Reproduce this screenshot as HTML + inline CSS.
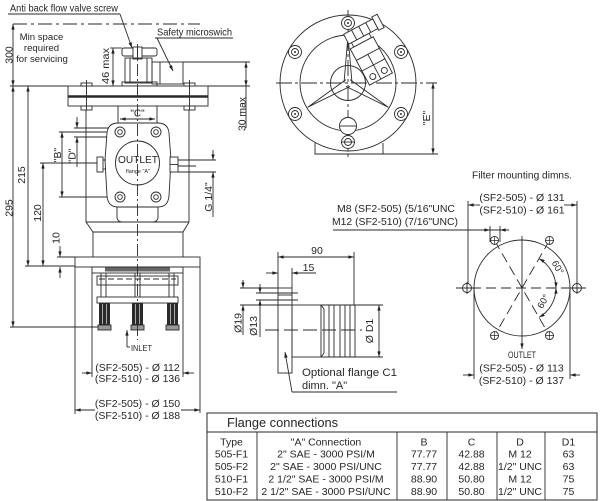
<!DOCTYPE html>
<html><head><meta charset="utf-8">
<style>
html,body{margin:0;padding:0;background:#fff;width:600px;height:501px;overflow:hidden;}
svg{display:block;}
text{font-family:"Liberation Sans",Arial,sans-serif;fill:#262626;stroke:none;}
</style></head><body>
<svg width="600" height="501" viewBox="0 0 600 501" xmlns="http://www.w3.org/2000/svg">
<defs>
<marker id="a" viewBox="0 0 10 6" refX="10" refY="3" markerWidth="6" markerHeight="3.4" markerUnits="userSpaceOnUse" orient="auto-start-reverse"><path d="M0,0 L10,3 L0,6 Z" fill="#222"/></marker>
</defs>

<g stroke="#2a2a2a" stroke-width="0.9" fill="none">

<!-- ============ LEFT VIEW ============ -->
<line x1="8" y1="14" x2="120" y2="14"/>
<line x1="120" y1="14" x2="132" y2="48" marker-end="url(#a)"/>
<line x1="13" y1="24" x2="200" y2="24" stroke-dasharray="14,4,3,4"/>
<line x1="155" y1="38" x2="233" y2="38"/>
<line x1="157" y1="38" x2="173" y2="71" marker-end="url(#a)"/>

<line x1="13" y1="24" x2="13" y2="86" marker-start="url(#a)" marker-end="url(#a)"/>
<line x1="10" y1="86" x2="68" y2="86"/>
<line x1="13" y1="86" x2="13" y2="327" marker-start="url(#a)" marker-end="url(#a)"/>
<line x1="28" y1="86" x2="28" y2="266" marker-start="url(#a)" marker-end="url(#a)"/>
<line x1="43" y1="163" x2="43" y2="266" marker-start="url(#a)" marker-end="url(#a)"/>
<line x1="40" y1="163" x2="97" y2="163"/>
<line x1="25" y1="266" x2="75" y2="266"/>
<line x1="10" y1="327" x2="100" y2="327"/>
<line x1="60" y1="246" x2="60" y2="257" marker-end="url(#a)"/>
<line x1="60" y1="278" x2="60" y2="267" marker-end="url(#a)"/>
<line x1="57" y1="257" x2="75" y2="257"/>
<line x1="62" y1="132" x2="62" y2="197" marker-start="url(#a)" marker-end="url(#a)"/>
<line x1="59" y1="132" x2="115" y2="132"/>
<line x1="59" y1="197" x2="115" y2="197"/>
<line x1="77" y1="117" x2="77" y2="128" marker-end="url(#a)"/>
<line x1="77" y1="167" x2="77" y2="137" marker-end="url(#a)"/>
<line x1="74" y1="128" x2="112" y2="128"/>
<line x1="74" y1="137" x2="112" y2="137"/>
<line x1="113" y1="48" x2="113" y2="86" marker-start="url(#a)" marker-end="url(#a)"/>
<line x1="110" y1="48" x2="122" y2="48"/>
<line x1="183" y1="62" x2="250" y2="62"/>
<line x1="208" y1="86" x2="250" y2="86"/>
<line x1="246" y1="62" x2="246" y2="86" marker-start="url(#a)" marker-end="url(#a)"/>
<line x1="246" y1="86" x2="246" y2="128"/>
<line x1="178" y1="160" x2="216" y2="160"/>
<line x1="178" y1="172" x2="216" y2="172"/>
<line x1="176" y1="166" x2="196" y2="166"/>
<line x1="213" y1="150" x2="213" y2="160" marker-end="url(#a)"/>
<line x1="213" y1="217" x2="213" y2="172" marker-end="url(#a)"/>

<rect x="122" y="48" width="35" height="8" rx="2" fill="#fff"/>
<rect x="133" y="47" width="9" height="12" fill="#fff"/>
<line x1="137.5" y1="47" x2="137.5" y2="59"/>
<rect x="125" y="58" width="27" height="25"/>
<line x1="130" y1="58" x2="130" y2="83"/>
<line x1="147" y1="58" x2="147" y2="83"/>
<rect x="152" y="62" width="31" height="22"/>
<line x1="160" y1="62" x2="160" y2="84"/>
<rect x="122" y="82" width="35" height="4"/>

<rect x="68" y="86" width="140" height="20" fill="#fff"/>
<line x1="68" y1="96.5" x2="208" y2="96.5" stroke-width="2.4"/>
<rect x="81" y="83" width="11" height="3" fill="#fff"/>
<rect x="184" y="83" width="11" height="3" fill="#fff"/>
<rect x="81" y="106" width="11" height="4" fill="#fff"/>
<rect x="184" y="106" width="11" height="4" fill="#fff"/>
<line x1="86.5" y1="80" x2="86.5" y2="110"/>
<line x1="189.5" y1="80" x2="189.5" y2="110"/>

<line x1="86" y1="110" x2="86" y2="222"/>
<line x1="189" y1="110" x2="189" y2="222"/>
<line x1="86" y1="222" x2="189" y2="222"/>
<line x1="86" y1="222" x2="93" y2="232"/>
<line x1="189" y1="222" x2="183" y2="232"/>
<line x1="93" y1="232" x2="183" y2="232"/>
<line x1="93" y1="232" x2="93" y2="257"/>
<line x1="183" y1="232" x2="183" y2="257"/>

<line x1="118" y1="106" x2="118" y2="126"/>
<line x1="157" y1="106" x2="157" y2="126"/>
<line x1="120" y1="119" x2="155" y2="119" marker-start="url(#a)" marker-end="url(#a)"/>

<path d="M118,123 L158,123 Q168,123 169,133 L171,160 L169,196 Q168,207 158,207 L118,207 Q108,207 107,196 L105,160 L107,133 Q108,123 118,123 Z" fill="#fff"/>
<path d="M117,207 L117,218 Q118,222 122,222 M158,207 L158,218 Q157,222 153,222"/>
<circle cx="120" cy="132" r="5"/><circle cx="120" cy="132" r="2.3"/>
<circle cx="156" cy="132" r="5"/><circle cx="156" cy="132" r="2.3"/>
<circle cx="120" cy="197" r="5"/><circle cx="120" cy="197" r="2.3"/>
<circle cx="156" cy="197" r="5"/><circle cx="156" cy="197" r="2.3"/>
<circle cx="137.5" cy="163" r="22"/>
<rect x="97" y="157" width="6" height="15" fill="#fff"/>
<line x1="103" y1="160" x2="106" y2="160"/><line x1="103" y1="169" x2="106" y2="169"/>
<rect x="170" y="157" width="8" height="15" fill="#fff"/>
<line x1="170" y1="164.5" x2="178" y2="164.5"/>

<rect x="75" y="257" width="125" height="10" fill="#fff"/>
<rect x="92" y="267" width="91" height="6"/>
<rect x="105" y="267.5" width="65" height="4" fill="#666" stroke="none"/>
<rect x="97" y="276" width="81" height="9"/>
<line x1="99" y1="279" x2="176" y2="279" stroke-dasharray="6,3"/>
<line x1="101" y1="273" x2="101" y2="297"/><line x1="106" y1="273" x2="106" y2="297"/>
<line x1="135" y1="273" x2="135" y2="297"/><line x1="140" y1="273" x2="140" y2="297"/>
<line x1="169" y1="273" x2="169" y2="297"/><line x1="174" y1="273" x2="174" y2="297"/>
<rect x="97" y="297" width="81" height="6" fill="#fff"/>
<g fill="#2a2a2a" stroke="none">
<rect x="99" y="303" width="11" height="22"/>
<rect x="132" y="303" width="11" height="22"/>
<rect x="167" y="303" width="11" height="22"/>
</g>
<g stroke="#ccc" stroke-width="0.8">
<line x1="102.5" y1="304" x2="102.5" y2="324"/><line x1="106.5" y1="304" x2="106.5" y2="324"/>
<line x1="135.5" y1="304" x2="135.5" y2="324"/><line x1="139.5" y1="304" x2="139.5" y2="324"/>
<line x1="170.5" y1="304" x2="170.5" y2="324"/><line x1="174.5" y1="304" x2="174.5" y2="324"/>
</g>
<rect x="98" y="325" width="13" height="5" fill="#999"/>
<rect x="131" y="325" width="13" height="5" fill="#999"/>
<rect x="166" y="325" width="13" height="5" fill="#999"/>

<line x1="137.5" y1="44" x2="137.5" y2="340" stroke-dasharray="12,3,2,3"/>

<line x1="127" y1="347" x2="127" y2="330" marker-end="url(#a)"/>
<line x1="127" y1="347" x2="130" y2="347"/>

<line x1="92" y1="273" x2="92" y2="377"/>
<line x1="183" y1="273" x2="183" y2="377"/>
<line x1="82" y1="373" x2="92" y2="373" marker-end="url(#a)"/>
<line x1="194" y1="373" x2="183" y2="373" marker-end="url(#a)"/>
<line x1="75" y1="267" x2="75" y2="414"/>
<line x1="200" y1="267" x2="200" y2="413"/>
<line x1="95" y1="410" x2="75" y2="410" marker-end="url(#a)"/>
<line x1="181" y1="410" x2="200" y2="410" marker-end="url(#a)"/>

<!-- ============ TOP VIEW ============ -->
<circle cx="348" cy="83" r="68"/>
<circle cx="348" cy="83" r="48"/>
<circle cx="348" cy="83" r="17.5"/>
<path d="M350.1,86.4 L307.7,107.2 L345.9,79.6"/>
<path d="M345.9,86.4 L388.3,107.2 L350.1,79.6"/>
<path d="M352,83 L348,36 L344,83"/>
<line x1="276" y1="83" x2="437" y2="83" stroke-dasharray="16,3,3,3"/>
<line x1="348" y1="10" x2="348" y2="160" stroke-dasharray="16,3,3,3"/>
<g fill="#fff">
<circle cx="348" cy="23" r="6.5"/><circle cx="348" cy="23" r="3.5"/>
<circle cx="295" cy="52" r="6.5"/><circle cx="295" cy="52" r="3.5"/>
<circle cx="401" cy="52" r="6.5"/><circle cx="401" cy="52" r="3.5"/>
<circle cx="295" cy="114" r="6.5"/><circle cx="295" cy="114" r="3.5"/>
<circle cx="401" cy="114" r="6.5"/><circle cx="401" cy="114" r="3.5"/>
<circle cx="348" cy="126" r="8.5"/>
<circle cx="348" cy="142" r="6.5"/><circle cx="348" cy="142" r="3.5"/>
</g>
<line x1="340" y1="126" x2="356" y2="126"/>
<line x1="342" y1="142" x2="354" y2="142"/>
<g fill="#333" stroke="none">
<circle cx="348" cy="23" r="1"/><circle cx="295" cy="52" r="1"/><circle cx="401" cy="52" r="1"/>
<circle cx="295" cy="114" r="1"/><circle cx="401" cy="114" r="1"/>
</g>
<path d="M315,143 L315,154 L383,154 L383,143"/>
<line x1="383" y1="154" x2="438" y2="154"/>
<line x1="433" y1="83" x2="433" y2="154" marker-start="url(#a)" marker-end="url(#a)"/>
<g transform="translate(352,48) rotate(-28)" fill="#fff">
<rect x="2" y="-5" width="20" height="5"/>
<rect x="-1" y="-16" width="33" height="11"/>
<rect x="32" y="-18" width="6" height="15"/>
<line x1="8" y1="-16" x2="8" y2="-5"/><line x1="16" y1="-16" x2="16" y2="-5"/><line x1="24" y1="-16" x2="24" y2="-5"/>
<rect x="-2" y="0" width="26" height="41"/>
<line x1="-2" y1="13" x2="24" y2="13"/><line x1="-2" y1="25" x2="24" y2="25"/>
<line x1="11" y1="13" x2="11" y2="41"/>
<circle cx="5" cy="35" r="3"/><circle cx="18" cy="35" r="3"/>
</g>

<!-- ============ FLANGE SIDE VIEW ============ -->
<line x1="278" y1="252" x2="278" y2="288"/>
<line x1="354" y1="252" x2="354" y2="305"/>
<line x1="278" y1="257" x2="354" y2="257" marker-start="url(#a)" marker-end="url(#a)"/>
<line x1="292" y1="268" x2="292" y2="288"/>
<line x1="266" y1="273" x2="278" y2="273" marker-end="url(#a)"/>
<line x1="316" y1="273" x2="292" y2="273" marker-end="url(#a)"/>
<rect x="278" y="288" width="14" height="85" fill="#fff"/>
<line x1="278" y1="295" x2="292" y2="295"/>
<line x1="240" y1="288" x2="278" y2="288"/>
<line x1="240" y1="305" x2="292" y2="305"/>
<line x1="256" y1="293" x2="298" y2="293"/>
<line x1="256" y1="300" x2="298" y2="300"/>
<line x1="243" y1="280" x2="243" y2="288" marker-end="url(#a)"/>
<line x1="243" y1="335" x2="243" y2="305" marker-end="url(#a)"/>
<line x1="260" y1="284" x2="260" y2="293" marker-end="url(#a)"/>
<line x1="260" y1="337" x2="260" y2="300" marker-end="url(#a)"/>
<rect x="292" y="305" width="29" height="52"/>
<path d="M321,305 L327,305 L355,305 L355,357 L327,357 L321,357"/>
<line x1="321" y1="305" x2="324" y2="309"/>
<line x1="321" y1="357" x2="324" y2="353"/>
<line x1="324" y1="309" x2="324" y2="353"/>
<line x1="329" y1="305" x2="329" y2="357"/>
<line x1="334" y1="305" x2="334" y2="357"/>
<line x1="340" y1="305" x2="340" y2="357"/>
<line x1="345" y1="305" x2="345" y2="357"/>
<line x1="350" y1="305" x2="350" y2="357"/>
<line x1="265" y1="330" x2="362" y2="330" stroke-dasharray="14,5"/>
<line x1="355" y1="305" x2="383" y2="305"/>
<line x1="355" y1="357" x2="383" y2="357"/>
<line x1="379" y1="305" x2="379" y2="357" marker-start="url(#a)" marker-end="url(#a)"/>
<line x1="292" y1="392" x2="285" y2="352" marker-end="url(#a)"/>
<line x1="292" y1="392" x2="397" y2="392"/>

<!-- ============ RIGHT VIEW ============ -->
<line x1="480" y1="205" x2="468" y2="205" marker-end="url(#a)"/>
<line x1="564" y1="205" x2="577" y2="205" marker-end="url(#a)"/>
<line x1="468" y1="201" x2="468" y2="293"/>
<line x1="577" y1="201" x2="577" y2="293"/>
<circle cx="522" cy="288" r="48"/>
<line x1="456" y1="288" x2="588" y2="288" stroke-dasharray="10,5"/>
<line x1="494.5" y1="240.4" x2="549.5" y2="335.6" stroke-dasharray="10,5"/>
<line x1="549.5" y1="240.4" x2="494.5" y2="335.6" stroke-dasharray="10,5"/>
<line x1="522" y1="236" x2="522" y2="349" marker-end="url(#a)"/>
<g fill="#fff">
<circle cx="467" cy="288" r="4.5"/><circle cx="577" cy="288" r="4.5"/>
<circle cx="494.5" cy="240.4" r="4"/><circle cx="549.5" cy="240.4" r="4"/>
<circle cx="494.5" cy="335.6" r="4"/><circle cx="549.5" cy="335.6" r="4"/>
</g>
<path d="M461,288 h12 M467,282 v12 M571,288 h12 M577,282 v12"/>
<path d="M490,240.4 h9 M494.5,236 v9 M545,240.4 h9 M549.5,236 v9 M490,335.6 h9 M494.5,331 v9 M545,335.6 h9 M549.5,331 v9" stroke-width="0.7"/>
<path d="M539,258.6 A34,34 0 0 1 556,288" marker-start="url(#a)" marker-end="url(#a)"/>
<path d="M556,288 A34,34 0 0 1 539,317.4" marker-start="url(#a)" marker-end="url(#a)"/>
<line x1="474" y1="288" x2="474" y2="379"/>
<line x1="570" y1="288" x2="570" y2="379"/>
<line x1="463" y1="375" x2="474" y2="375" marker-end="url(#a)"/>
<line x1="580" y1="375" x2="570" y2="375" marker-end="url(#a)"/>
<line x1="333" y1="230" x2="509" y2="230"/>
<line x1="480" y1="230" x2="490" y2="230" marker-end="url(#a)"/>
<line x1="509" y1="230" x2="500" y2="230" marker-end="url(#a)"/>
<line x1="490" y1="226" x2="490" y2="242"/>
<line x1="500" y1="226" x2="500" y2="242"/>

<!-- ============ TABLE ============ -->
<rect x="207" y="413" width="390" height="87" stroke-width="1"/>
<line x1="207" y1="432" x2="597" y2="432"/>
<line x1="257" y1="432" x2="257" y2="500"/>
<line x1="397" y1="432" x2="397" y2="500"/>
<line x1="447" y1="432" x2="447" y2="500"/>
<line x1="497" y1="432" x2="497" y2="500"/>
<line x1="545" y1="432" x2="545" y2="500"/>
</g>

<!-- ============ TEXT ============ -->
<g font-size="10.5">
<text x="10" y="11.5" font-size="10" textLength="108" lengthAdjust="spacingAndGlyphs">Anti back flow valve screw</text>
<text x="157" y="35.5" font-size="10" textLength="75" lengthAdjust="spacingAndGlyphs">Safety microswich</text>
<g text-anchor="middle" font-size="9.6">
<text x="41.5" y="40">Min space</text>
<text x="41.5" y="51">required</text>
<text x="42" y="62">for servicing</text>
</g>
<g text-anchor="middle">
<text transform="translate(12.5,55) rotate(-90)">300</text>
<text transform="translate(25,175) rotate(-90)">215</text>
<text transform="translate(12.5,208) rotate(-90)">295</text>
<text transform="translate(41,213) rotate(-90)">120</text>
<text transform="translate(59.5,238) rotate(-90)">10</text>
<text transform="translate(61,155) rotate(-90)">"B"</text>
<text transform="translate(75.5,156) rotate(-90)">"D"</text>
<text transform="translate(109,66) rotate(-90)" textLength="36" lengthAdjust="spacingAndGlyphs">46 max</text>
<text transform="translate(245.5,114) rotate(-90)" textLength="34" lengthAdjust="spacingAndGlyphs">30 max</text>
<text transform="translate(212,197) rotate(-90)">G 1/4"</text>
<text x="137.5" y="116.5" font-size="10">"C"</text>
<text x="138" y="163" textLength="40" lengthAdjust="spacingAndGlyphs">OUTLET</text>
<text x="138" y="173" font-size="5.5">flange "A"</text>
<text x="137.5" y="371">(SF2-505) - Ø 112</text>
<text x="137.5" y="382">(SF2-510) - Ø 136</text>
<text x="137.5" y="407">(SF2-505) - Ø 150</text>
<text x="137.5" y="419">(SF2-510) - Ø 188</text>
<text transform="translate(430,118) rotate(-90)">"E"</text>
<text x="317" y="254">90</text>
<text x="308.5" y="271">15</text>
<text transform="translate(241.5,323) rotate(-90)">Ø19</text>
<text transform="translate(257,326) rotate(-90)">Ø13</text>
<text transform="translate(373,331) rotate(-90)">Ø D1</text>
<text x="522" y="201">(SF2-505) - Ø 131</text>
<text x="522" y="213.5">(SF2-510) - Ø 161</text>
<text x="522" y="358" font-size="9" textLength="28" lengthAdjust="spacingAndGlyphs">OUTLET</text>
<text x="521.5" y="371.5">(SF2-505) - Ø 113</text>
<text x="521.5" y="384">(SF2-510) - Ø 137</text>
<text transform="translate(555,269) rotate(60)" font-size="9.5">60°</text>
<text transform="translate(546,303) rotate(-60)" font-size="9.5">60°</text>
</g>
<text x="131" y="351" font-size="8.5" textLength="21" lengthAdjust="spacingAndGlyphs">INLET</text>
<text x="302" y="376" font-size="11" textLength="95" lengthAdjust="spacingAndGlyphs">Optional flange C1</text>
<text x="302" y="389" font-size="11">dimn. "A"</text>
<text x="472" y="178.5" textLength="100" lengthAdjust="spacingAndGlyphs">Filter mounting dimns.</text>
<text x="455" y="212" text-anchor="end" textLength="118" lengthAdjust="spacingAndGlyphs">M8 (SF2-505) (5/16"UNC</text>
<text x="458" y="225" text-anchor="end" textLength="126" lengthAdjust="spacingAndGlyphs">M12 (SF2-510) (7/16"UNC)</text>

<text x="227" y="427" font-size="12.8">Flange connections</text>
<g text-anchor="middle" fill="#333">
<text x="231.5" y="445.5">Type</text>
<text x="326" y="445.5">"A"  Connection</text>
<text x="424" y="445.5">B</text>
<text x="471.5" y="445.5">C</text>
<text x="520" y="445.5">D</text>
<text x="568.5" y="445.5">D1</text>

<text x="231.5" y="457.5">505-F1</text>
<text x="326" y="457.5">2" SAE - 3000 PSI/M</text>
<text x="424" y="457.5">77.77</text>
<text x="471.5" y="457.5">42.88</text>
<text x="520" y="457.5">M 12</text>
<text x="568.5" y="457.5">63</text>

<text x="231.5" y="470">505-F2</text>
<text x="326" y="470">2" SAE - 3000 PSI/UNC</text>
<text x="424" y="470">77.77</text>
<text x="471.5" y="470">42.88</text>
<text x="520" y="470">1/2" UNC</text>
<text x="568.5" y="470">63</text>

<text x="231.5" y="482.5">510-F1</text>
<text x="326" y="482.5">2 1/2" SAE - 3000 PSI/M</text>
<text x="424" y="482.5">88.90</text>
<text x="471.5" y="482.5">50.80</text>
<text x="520" y="482.5">M 12</text>
<text x="568.5" y="482.5">75</text>

<text x="231.5" y="494.8">510-F2</text>
<text x="326" y="494.8">2 1/2" SAE - 3000 PSI/UNC</text>
<text x="424" y="494.8">88.90</text>
<text x="471.5" y="494.8">50.80</text>
<text x="520" y="494.8">1/2" UNC</text>
<text x="568.5" y="494.8">75</text>
</g>
</g>
</svg>
</body></html>
